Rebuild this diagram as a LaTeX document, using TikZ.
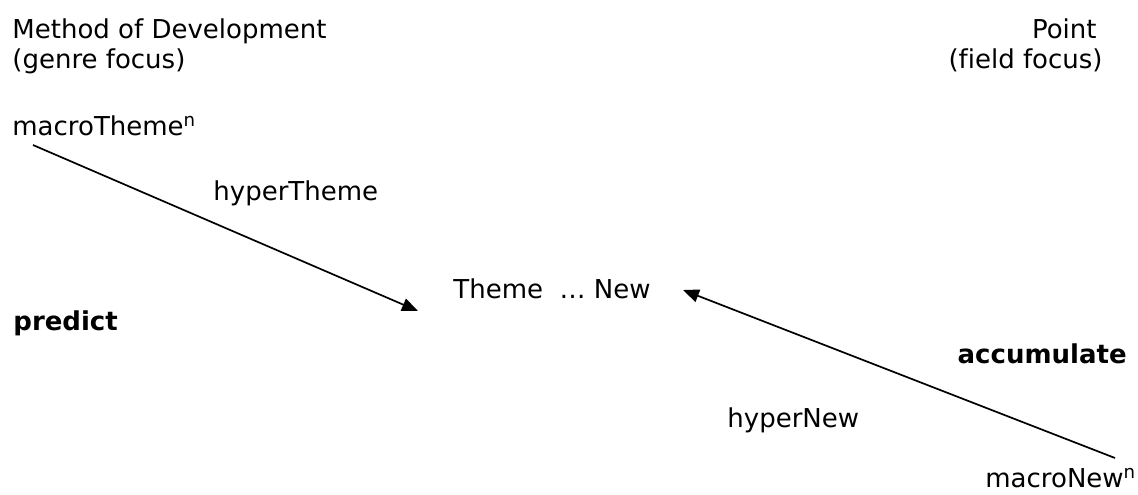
\documentclass[tikz,border=0pt]{standalone}
\usepackage{fontspec}
\setmainfont[Ligatures=NoCommon]{DejaVu Sans}
\usepackage{tikz}
\usetikzlibrary{arrows.meta}

\begin{document}
\begin{tikzpicture}[
  x=0.5pt, y=-0.5pt,
  lbl/.style={inner sep=0pt, font=\fontsize{13}{15}\selectfont},
  key/.style={lbl, font=\fontsize{13}{15}\selectfont\bfseries},
  arrow/.style={-{Triangle[length=8pt,width=6.5pt]}, line width=0.85pt}
]
\useasboundingbox (0,0) rectangle (1138,494);
% column heads
\node[lbl, anchor=base west] (method) at (12,38) {Method of Development};
\node[lbl, anchor=base west] (genre) at (12,68) {(genre focus)};
\node[lbl, anchor=base east] (point) at (1097,38) {Point};
\node[lbl, anchor=base east] (field) at (1103,68) {(field focus)};
% theme side
\node[lbl, anchor=base west] (macroTheme) at (12,135) {macroTheme\textsuperscript{n}};
\node[lbl, anchor=base west] (hyperTheme) at (213,200) {hyperTheme};
\node[key, anchor=base west] (predict) at (13,330) {predict};
% centre
\node[lbl, anchor=base west] (themeNew) at (453,298) {Theme\ \ … New};
% new side
\node[key, anchor=base east] (accumulate) at (1127,363) {accumulate};
\node[lbl, anchor=base west] (hyperNew) at (727,427) {hyperNew};
\node[lbl, anchor=base west] (macroNew) at (985,487) {macroNew\textsuperscript{n}};
% arrow ends
\coordinate (themeFrom) at (33,145);
\coordinate (themeTo) at (418,311);
\coordinate (newFrom) at (1115,458);
\coordinate (newTo) at (683,290);
\draw[arrow] (themeFrom) -- (themeTo);
\draw[arrow] (newFrom) -- (newTo);
\end{tikzpicture}
\end{document}
